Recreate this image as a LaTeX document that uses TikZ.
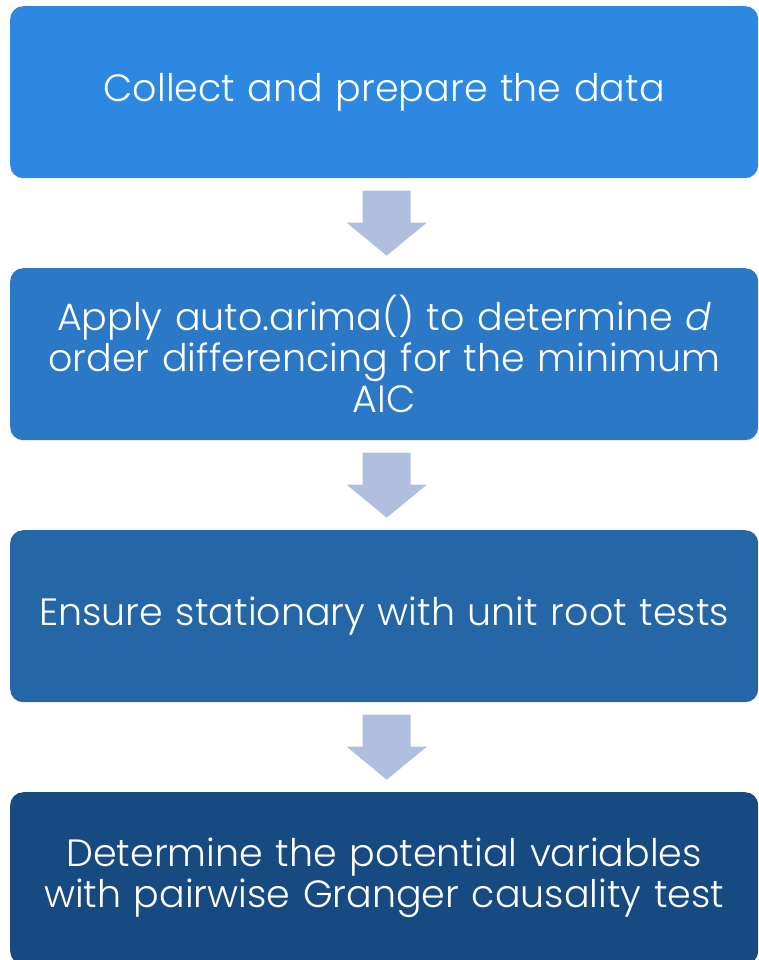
\documentclass[tikz,border=0pt]{standalone}
\usepackage{fontspec}
\setmainfont{Poppins}[UprightFont=* Light, ItalicFont=* Light Italic]
\usetikzlibrary{calc}
\definecolor{stepA}{RGB}{44,136,224}
\definecolor{stepB}{RGB}{42,120,198}
\definecolor{stepC}{RGB}{37,102,166}
\definecolor{stepD}{RGB}{24,74,130}
\definecolor{arrowfill}{RGB}{176,191,224}
\begin{document}
\begin{tikzpicture}[x=1pt,y=-1pt,
  stepbox/.style={rounded corners=13pt, inner sep=0pt, minimum width=748pt,
    minimum height=172pt, text=white, align=center, anchor=north west,
    font=\fontsize{38}{41}\selectfont, text width=744pt},
  downarrow/.pic={\fill[arrowfill] (-24,-32.5) -- (24,-32.5) -- (24,-0.5) -- (40,-0.5)
    -- (0,32.5) -- (-40,-0.5) -- (-24,-0.5) -- cycle;}]
  \useasboundingbox (0,0) rectangle (759,960);
  \begin{scope}
  \clip (0,0) rectangle (759,960);
  \node[stepbox, fill=stepA] (s1) at (10,6) {Collect and prepare the data};
  \node[stepbox, fill=stepB] (s2) at (10,268) {Apply auto.arima() to determine \textit{d}\\order differencing for the minimum\\AIC};
  \node[stepbox, fill=stepC] (s3) at (10,530) {Ensure stationary with unit root tests};
  \node[stepbox, fill=stepD] (s4) at (10,792) {Determine the potential variables\\with pairwise Granger causality test};
  \end{scope}
  % block arrows centred in the gaps between the steps
  \coordinate (g12) at ($(s1.south)!0.5!(s2.north)+(2.5,0)$);
  \coordinate (g23) at ($(s2.south)!0.5!(s3.north)+(2.5,0)$);
  \coordinate (g34) at ($(s3.south)!0.5!(s4.north)+(2.5,0)$);
  \pic at (g12) {downarrow};
  \pic at (g23) {downarrow};
  \pic at (g34) {downarrow};
\end{tikzpicture}
\end{document}
